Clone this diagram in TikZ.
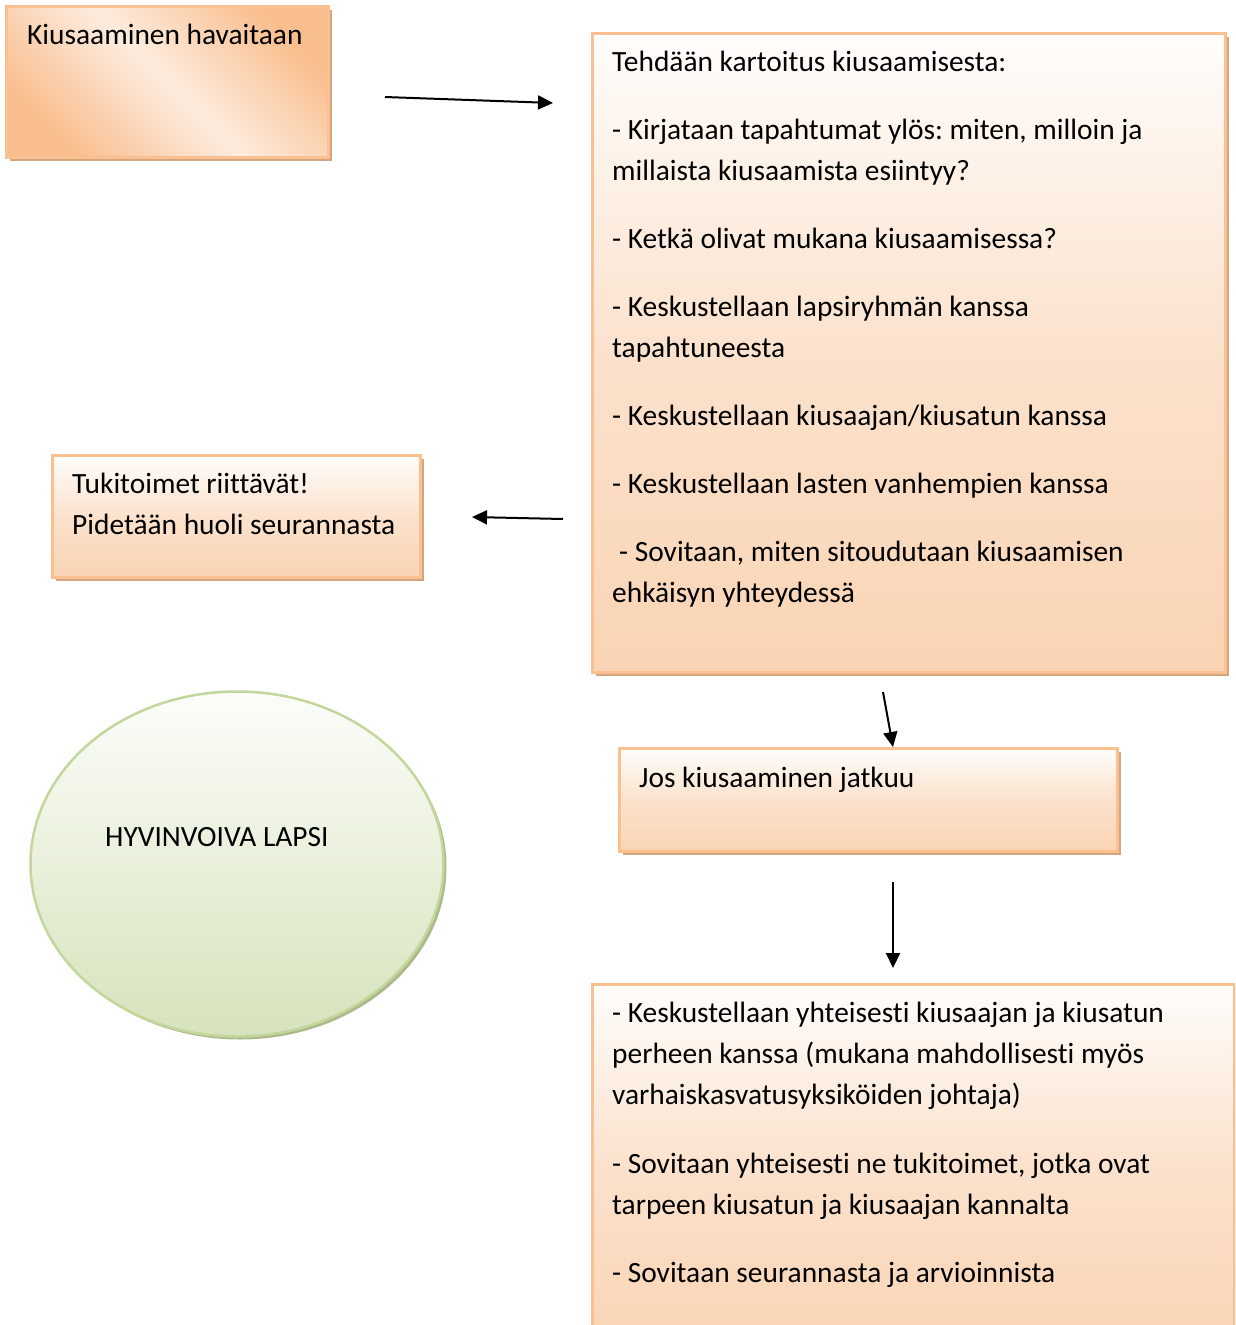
\documentclass[tikz,border=0pt]{standalone}
\usepackage{fontspec}
\setmainfont{Carlito}[Ligatures=NoCommon]
\usetikzlibrary{arrows.meta,shapes.geometric,shadows}
\definecolor{boxOr}{RGB}{249,190,142}
\definecolor{boxLt}{RGB}{253,236,222}
\definecolor{boxBot}{RGB}{250,212,180}
\definecolor{boxTop}{RGB}{255,253,251}
\definecolor{boxMid}{RGB}{251,226,205}
\definecolor{boxLine}{RGB}{250,192,143}
\definecolor{shadowC}{RGB}{212,166,128}
\definecolor{ellLine}{RGB}{195,214,155}
\definecolor{ellTop}{RGB}{252,253,250}
\definecolor{ellBot}{RGB}{214,227,188}
\definecolor{ellShadow}{RGB}{172,186,138}
\begin{document}
\begin{tikzpicture}[x=1pt,y=-1pt,
  boxbase/.style={draw=boxLine, line width=2.5pt, rectangle, inner sep=0pt, anchor=north west,
     drop shadow={shadow xshift=3.5pt, shadow yshift=-3.5pt, fill=shadowC, opacity=1}},
  vbox/.style={boxbase, top color=boxTop, bottom color=boxBot, middle color=boxMid},
  txt/.style={inner sep=0pt, align=flush left, font=\fontsize{29.4}{41}\selectfont\frenchspacing},
  arr/.style={line width=2pt, -{Triangle[length=15pt,width=14pt]}}]
\clip (0,0) rectangle (1235,1325);

% boxes
\node[boxbase, top color=boxOr, bottom color=boxOr, middle color=boxLt, shading angle=-45,
      minimum width=322pt, minimum height=151pt] (havaitaan) at (5,5) {};
\node[vbox, minimum width=633pt, minimum height=639pt] (kartoitus) at (591,32) {};
\node[vbox, minimum width=368pt, minimum height=122pt] (tukitoimet) at (51,454) {};
\node[vbox, minimum width=498pt, minimum height=103pt] (jatkuu) at (618,747) {};
\node[vbox, minimum width=642pt, minimum height=362pt] (yhteisesti) at (591,983) {};
\node[ellipse, draw=ellLine, line width=2.5pt, inner sep=0pt,
      top color=ellTop, bottom color=ellBot,
      drop shadow={shadow xshift=3pt, shadow yshift=-3pt, fill=ellShadow, opacity=1},
      minimum width=413pt, minimum height=345pt] (lapsi) at (237,864) {};

% texts
\node[txt, anchor=base west] (havaitaanTxt) at (27,44.5) {Kiusaaminen havaitaan};
\node[txt, anchor=north west, text width=620pt] (kartoitusTxt) at (612,42.8) {\strut Tehdään kartoitus kiusaamisesta:\\[27pt]
- Kirjataan tapahtumat ylös: miten, milloin ja\\
millaista kiusaamista esiintyy?\\[27pt]
- Ketkä olivat mukana kiusaamisessa?\\[27pt]
- Keskustellaan lapsiryhmän kanssa\\
tapahtuneesta\\[27pt]
- Keskustellaan kiusaajan/kiusatun kanssa\\[27pt]
- Keskustellaan lasten vanhempien kanssa\\[27pt]
\hspace*{7pt}- Sovitaan, miten sitoudutaan kiusaamisen\\
ehkäisyn yhteydessä};
\node[txt, anchor=north west, text width=360pt] (tukitoimetTxt) at (72,464.8) {\strut Tukitoimet riittävät!\\
Pidetään huoli seurannasta};
\node[txt, anchor=base west] (jatkuuTxt) at (639,787.5) {Jos kiusaaminen jatkuu};
\node[txt, anchor=base west] (lapsiTxt) at (105,846) {HYVINVOIVA LAPSI};
\node[txt, anchor=north west, text width=620pt] (yhteisestiTxt) at (612,993.8) {\strut - Keskustellaan yhteisesti kiusaajan ja kiusatun\\
perheen kanssa (mukana mahdollisesti myös\\
varhaiskasvatusyksiköiden johtaja)\\[28pt]
- Sovitaan yhteisesti ne tukitoimet, jotka ovat\\
tarpeen kiusatun ja kiusaajan kannalta\\[27pt]
- Sovitaan seurannasta ja arvioinnista};

% arrows
\coordinate (a1s) at (385,97);
\coordinate (a1e) at (553,103);
\coordinate (a2s) at (563,519);
\coordinate (a2e) at (472,517);
\coordinate (a3s) at (883,692);
\coordinate (a3e) at (893,747);
\coordinate (a4s) at (893,882);
\coordinate (a4e) at (893,968);
\draw[arr] (a1s) -- (a1e);
\draw[arr] (a2s) -- (a2e);
\draw[arr] (a3s) -- (a3e);
\draw[arr] (a4s) -- (a4e);
\end{tikzpicture}
\end{document}
